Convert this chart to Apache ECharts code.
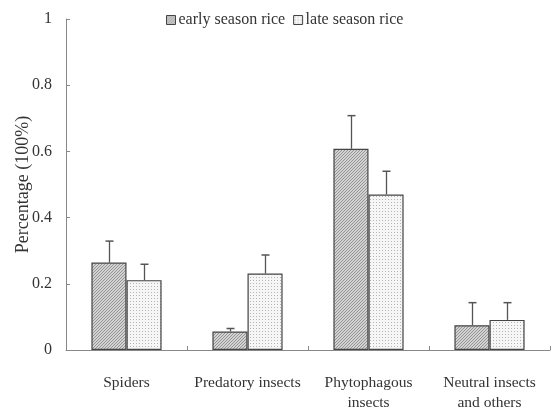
<!DOCTYPE html>
<html>
<head>
<meta charset="utf-8">
<script src="https://cdn.jsdelivr.net/npm/echarts@6/dist/echarts.min.js"></script>
<style>
  html, body { margin: 0; padding: 0; background: #fff; }
  #main { width: 555px; height: 408px; }
</style>
</head>
<body>
<div id="main"></div>
<script>
const categories = ['Spiders', 'Predatory insects', 'Phytophagous\ninsects', 'Neutral insects\nand others'];
const earlyValues = [0.264, 0.056, 0.608, 0.075];
const earlyErrTop = [0.329, 0.065, 0.708, 0.143];
const lateValues = [0.211, 0.231, 0.470, 0.091];
const lateErrTop = [0.259, 0.287, 0.540, 0.143];
const seriesNames = ['early season rice', 'late season rice'];

// small hatch / dot tiles for bar fills
function makeTile(kind) {
  const c = document.createElement('canvas');
  const ctx = c.getContext('2d');
  c.width = 3; c.height = 3;
  if (kind === 'hatch') {
    ctx.fillStyle = '#d2d2d2';
    ctx.fillRect(0, 0, 3, 3);
    ctx.fillStyle = '#959595';
    for (let i = 0; i < 3; i++) ctx.fillRect(i, 2 - i, 1, 1);
  } else {
    ctx.fillStyle = '#f6f6f6';
    ctx.fillRect(0, 0, 3, 3);
    ctx.fillStyle = '#b4b4b4';
    ctx.fillRect(1, 1, 1, 1);
  }
  return { image: c, repeat: 'repeat' };
}

const BAR_PCT = 0.29;

function errorSeries(tops, vals, side) {
  return {
    type: 'custom',
    silent: true,
    z: 3,
    data: tops.map((t, i) => [i, vals[i], t]),
    renderItem(params, api) {
      const catW = api.size([1, 0])[0];
      const bw = catW * BAR_PCT;
      const base = api.coord([api.value(0), api.value(1)]);
      const top = api.coord([api.value(0), api.value(2)]);
      const x = Math.round(base[0] + side * bw / 2) + 0.5;
      const cap = 4;
      return {
        type: 'group',
        children: [
          { type: 'line', shape: { x1: x, y1: base[1], x2: x, y2: top[1] }, style: { stroke: '#555', lineWidth: 1.3 } },
          { type: 'line', shape: { x1: x - cap, y1: top[1], x2: x + cap, y2: top[1] }, style: { stroke: '#555', lineWidth: 1.5 } }
        ]
      };
    }
  };
}

const chart = echarts.init(document.getElementById('main'), null, { renderer: 'canvas' });
const font = '"Liberation Serif", "DejaVu Serif", serif';

chart.setOption({
  animation: false,
  textStyle: { fontFamily: font },
  legend: {
    data: seriesNames,
    top: 7,
    left: 161,
    icon: 'rect',
    itemWidth: 9,
    itemHeight: 9,
    itemGap: 8,
    textStyle: { fontFamily: font, fontSize: 16, color: '#333', padding: [0, 0, 0, -2] },
    itemStyle: { borderColor: '#444', borderWidth: 1 }
  },
  grid: { left: 66, right: 5, top: 19, bottom: 58, containLabel: false, outerBoundsMode: 'none' },
  xAxis: {
    type: 'category',
    data: categories,
    axisLine: { lineStyle: { color: '#888', width: 1 } },
    axisTick: { show: true, inside: true, length: 4, lineStyle: { color: '#888' } },
    axisLabel: { fontFamily: font, fontSize: 15.5, color: '#333', margin: 23, lineHeight: 20, interval: 0 }
  },
  yAxis: {
    type: 'value',
    min: 0,
    max: 1,
    interval: 0.2,
    name: 'Percentage (100%)',
    nameLocation: 'middle',
    nameGap: 34,
    nameMoveOverlap: false,
    nameTextStyle: { fontFamily: font, fontSize: 18, color: '#333' },
    splitLine: { show: false },
    axisLine: { show: true, lineStyle: { color: '#888', width: 1 } },
    axisTick: { show: true, inside: true, length: 4, lineStyle: { color: '#888' } },
    axisLabel: { fontFamily: font, fontSize: 16, color: '#333', margin: 14 }
  },
  series: [
    {
      name: seriesNames[0],
      type: 'bar',
      data: earlyValues,
      barWidth: (BAR_PCT * 100) + '%',
      barGap: '0%',
      itemStyle: { color: makeTile('hatch'), borderColor: '#444', borderWidth: 1.2 }
    },
    {
      name: seriesNames[1],
      type: 'bar',
      data: lateValues,
      barWidth: (BAR_PCT * 100) + '%',
      barGap: '0%',
      itemStyle: { color: makeTile('dots'), borderColor: '#444', borderWidth: 1.2 }
    },
    errorSeries(earlyErrTop, earlyValues, -1),
    errorSeries(lateErrTop, lateValues, 1)
  ]
});
</script>
</body>
</html>
